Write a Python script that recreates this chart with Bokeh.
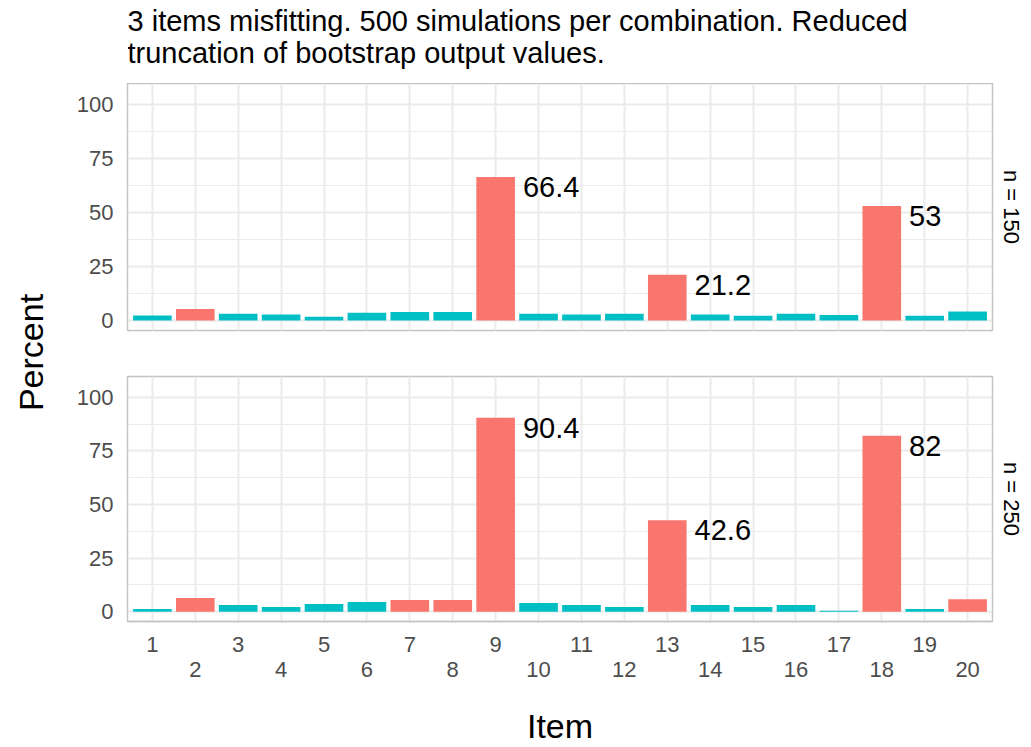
import math
from bokeh.plotting import figure
from bokeh.models import (ColumnDataSource, FixedTicker, LinearAxis, Label, Range1d, Title)
from bokeh.layouts import row, column
from bokeh.embed import file_html
from bokeh.resources import INLINE
from bokeh.core.properties import value

# ---------------- data ----------------
items = list(range(1, 21))
pct_n150 = [2.3, 5.4, 3.2, 2.8, 1.8, 3.6, 4.0, 4.0, 66.4, 3.2,
            2.8, 3.2, 21.2, 2.8, 2.2, 3.2, 2.6, 53.0, 2.2, 4.2]
pct_n250 = [1.2, 6.4, 3.1, 2.2, 3.6, 4.5, 5.4, 5.4, 90.4, 4.0,
            3.1, 2.2, 42.6, 3.1, 2.2, 3.1, 0.4, 82.0, 1.2, 5.8]
panel_labels = ["n = 150", "n = 250"]
y_ticks = [0, 25, 50, 75, 100]
y_minor = [12.5, 37.5, 62.5, 87.5]
title_lines = ["3 items misfitting. 500 simulations per combination. Reduced",
               "truncation of bootstrap output values."]

RED = "#F8766D"
TEAL = "#00BFC4"
FONT = "Liberation Sans"
GRID = "#EBEBEB"
BORDER = "#C4C4C4"

X0, X1 = 0.42, 20.58
Y0, Y1 = -4.6, 109.7


def make_panel(vals, strip, height, top_border, bottom_border, show_x):
    p = figure(width=976, height=height, output_backend="svg", toolbar_location=None,
               x_range=Range1d(X0, X1), y_range=Range1d(Y0, Y1),
               min_border_left=72, min_border_right=38,
               min_border_top=top_border, min_border_bottom=bottom_border)
    p.background_fill_color = "white"
    p.border_fill_color = "white"
    p.outline_line_color = BORDER
    p.outline_line_width = 1.5

    colors = [RED if v > 5 else TEAL for v in vals]
    src = ColumnDataSource(dict(x=items, top=vals, color=colors))
    p.vbar(x="x", top="top", bottom=0, width=0.9, fill_color="color",
           line_color=None, source=src)

    lab_x = [i + 0.45 for i, v in zip(items, vals) if v > 10]
    lab_y = [v for v in vals if v > 10]
    lab_t = [f"{v:g}" for v in vals if v > 10]
    p.text(x=lab_x, y=lab_y, text=lab_t, text_font=value(FONT),
           text_font_size="29px", text_color="black", text_align="left",
           text_baseline="middle", x_offset=8, y_offset=10)

    # grids
    p.xgrid.ticker = FixedTicker(ticks=items)
    p.xgrid.grid_line_color = GRID
    p.xgrid.grid_line_width = 2
    p.ygrid.ticker = FixedTicker(ticks=y_ticks, minor_ticks=y_minor)
    p.ygrid.grid_line_color = GRID
    p.ygrid.grid_line_width = 2
    p.ygrid.minor_grid_line_color = GRID
    p.ygrid.minor_grid_line_width = 1

    # y axis
    p.yaxis.ticker = FixedTicker(ticks=y_ticks)
    p.yaxis.axis_line_color = None
    p.yaxis.major_tick_line_color = None
    p.yaxis.minor_tick_line_color = None
    p.yaxis.major_label_text_font = FONT
    p.yaxis.major_label_text_font_size = "22px"
    p.yaxis.major_label_text_color = "#4D4D4D"
    p.yaxis.major_label_standoff = 8

    # x axis
    if show_x:
        ax = p.xaxis[0]
        ax.ticker = FixedTicker(ticks=[i for i in items if i % 2 == 1])
        ax.axis_line_color = BORDER
        ax.axis_line_width = 1.5
        ax.major_tick_line_color = None
        ax.minor_tick_line_color = None
        ax.major_label_text_font = FONT
        ax.major_label_text_font_size = "22px"
        ax.major_label_text_color = "#4D4D4D"
        ax.major_label_standoff = 9
        ax2 = LinearAxis(ticker=FixedTicker(ticks=[i for i in items if i % 2 == 0]))
        ax2.axis_line_color = None
        ax2.major_tick_line_color = None
        ax2.minor_tick_line_color = None
        ax2.major_label_text_font = FONT
        ax2.major_label_text_font_size = "22px"
        ax2.major_label_text_color = "#4D4D4D"
        ax2.major_label_standoff = 1
        ax2.axis_label = "Item"
        ax2.axis_label_text_font = FONT
        ax2.axis_label_text_font_size = "34px"
        ax2.axis_label_text_font_style = "normal"
        ax2.axis_label_text_color = "black"
        ax2.axis_label_standoff = 27
        p.add_layout(ax2, "below")
    else:
        p.xaxis.visible = False

    # strip label on the right
    st = Title(text=strip, align="center", text_font=FONT, text_font_size="22px",
               text_font_style="normal", text_color="black", standoff=12)
    p.add_layout(st, "right")
    return p


def blank(width, height):
    f = figure(width=width, height=height, output_backend="svg", toolbar_location=None,
               x_range=Range1d(0, width), y_range=Range1d(0, height),
               x_axis_location=None, y_axis_location=None,
               min_border=0, min_border_left=0, min_border_right=0,
               min_border_top=0, min_border_bottom=0)
    f.grid.visible = False
    f.outline_line_color = None
    return f


# header with the two-line title (its frame is aligned with the panels' frames)
header = blank(976, 83)
for k, line in enumerate(title_lines):
    header.add_layout(Label(x=0, y=83 - 20 - 32 * k, text=line,
                            text_align="left", text_baseline="middle",
                            text_font=FONT, text_font_size="29px", text_color="black"))

top = make_panel(pct_n150, panel_labels[0], 257, 0, 10, False)
bottom = make_panel(pct_n250, panel_labels[1], 407, 36, 124, True)

left = blank(55, 747)
left.add_layout(Label(x=30, y=747 - 352, text="Percent", angle=math.pi / 2,
                      text_align="center", text_baseline="middle",
                      text_font=FONT, text_font_size="34px", text_color="black"))

layout = row(left, column(header, top, bottom, spacing=0), spacing=0)
open("out.html", "w").write(file_html(layout, INLINE))
